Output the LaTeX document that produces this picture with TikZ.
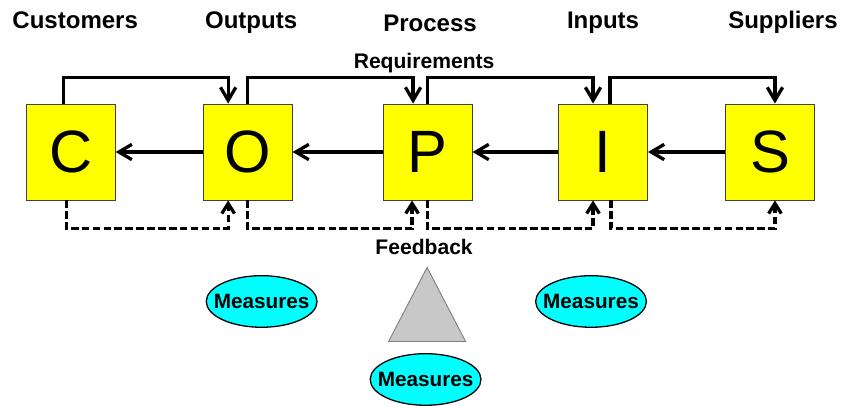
\documentclass[tikz,border=0pt]{standalone}
\usepackage{fontspec}
\setmainfont{Liberation Sans}
\usetikzlibrary{positioning,calc,arrows.meta,shapes.geometric}
\definecolor{boxyellow}{RGB}{255,255,0}
\definecolor{measurecyan}{RGB}{0,255,255}
\definecolor{fulcrumgray}{RGB}{200,200,200}

\begin{document}
\begin{tikzpicture}[
    box/.style={draw=black!75, line width=0.8pt, fill=boxyellow, minimum width=26.7mm, minimum height=28.8mm, inner sep=0pt, font=\fontsize{51}{51}\selectfont},
    title/.style={anchor=base, inner sep=0pt, font=\bfseries\fontsize{20.5}{24}\selectfont},
    note/.style={anchor=base, inner sep=0pt, font=\bfseries\fontsize{18}{21}\selectfont},
    measure/.style={ellipse, draw, line width=1.1pt, fill=measurecyan, inner xsep=-2.6mm, inner ysep=3.3mm, font=\bfseries\fontsize{17.7}{21}\selectfont},
    flow/.style={line width=2.8pt, -{Straight Barb[length=3.9mm,width=4.6mm]}},
    fback/.style={line width=2.8pt, dash pattern=on 6.5pt off 2.8pt, -{Straight Barb[length=3mm,width=3.8mm]}}
  ]
    \useasboundingbox (0,0) rectangle (252.3mm,-121.5mm);
    \matrix[column sep=23.1mm] (chain) at (126.1mm,-45.6mm) {
      \node[box] (C) {C}; &[3mm] \node[box] (O) {O}; &[3.9mm] \node[box] (P) {P}; &[2.55mm] \node[box] (I) {I}; & \node[box] (S) {S}; \\
    };
    \node[title] (custT) at ($(C.north)+(1.35mm,22.5mm)$) {Customers};
    \node[title] (outT) at ($(O.north)+(1.05mm,22.5mm)$) {Outputs};
    \node[title] (procT) at ($(P.north)+(0.75mm,21.75mm)$) {Process};
    \node[title] (inT) at ($(I.north)+(0mm,22.5mm)$) {Inputs};
    \node[title] (supT) at ($(S.north)+(3.9mm,22.5mm)$) {Suppliers};

    \draw[flow] (O.west) -- (C.east);
    \draw[flow] (P.west) -- (O.east);
    \draw[flow] (I.west) -- (P.east);
    \draw[flow] (S.west) -- (I.east);

    \node[note] (req) at ($(P.north)+(-1.05mm,10.5mm)$) {Requirements};
    \draw[flow] ([xshift=-2.25mm]C.north) -- ++(0,7.8mm) -| ([xshift=-5.85mm]O.north);
    \draw[flow] (O.north) -- ++(0,7.8mm) -| ([xshift=-4.35mm]P.north);
    \draw[flow] (P.north) -- ++(0,7.8mm) -| ([xshift=-3mm]I.north);
    \draw[flow] ([xshift=2.1mm]I.north) -- ++(0,7.8mm) -| ([xshift=1.5mm]S.north);

    \draw[fback] ([xshift=-1.35mm]C.south) -- ++(0,-8.4mm) -| ([xshift=-5.85mm]O.south);
    \draw[fback] (O.south) -- ++(0,-8.4mm) -| ([xshift=-4.65mm]P.south);
    \draw[fback] (P.south) -- ++(0,-8.4mm) -| ([xshift=-3mm]I.south);
    \draw[fback] ([xshift=2.4mm]I.south) -- ++(0,-8.4mm) -| ([xshift=1.5mm]S.south);
    \node[note] (fb) at ($(P.south)+(-1.05mm,-16.2mm)$) {Feedback};

    \node[measure] (mLeft) at ($(O.south)+(4.2mm,-30.3mm)$) {Measures};
    \node[measure] (mRight) at ($(I.south)+(-3.6mm,-30.3mm)$) {Measures};
    \node[measure] (mBottom) at ($(P.south)+(-0.6mm,-53.7mm)$) {Measures};
    \filldraw[fill=fulcrumgray, draw=black!50, line width=0.8pt] ($(P.south)+(-0.15mm,-20.1mm)$) coordinate (apex) -- ++(-11.55mm,-22.2mm) -- ++(23.1mm,0) -- cycle;
  \end{tikzpicture}
\end{document}
